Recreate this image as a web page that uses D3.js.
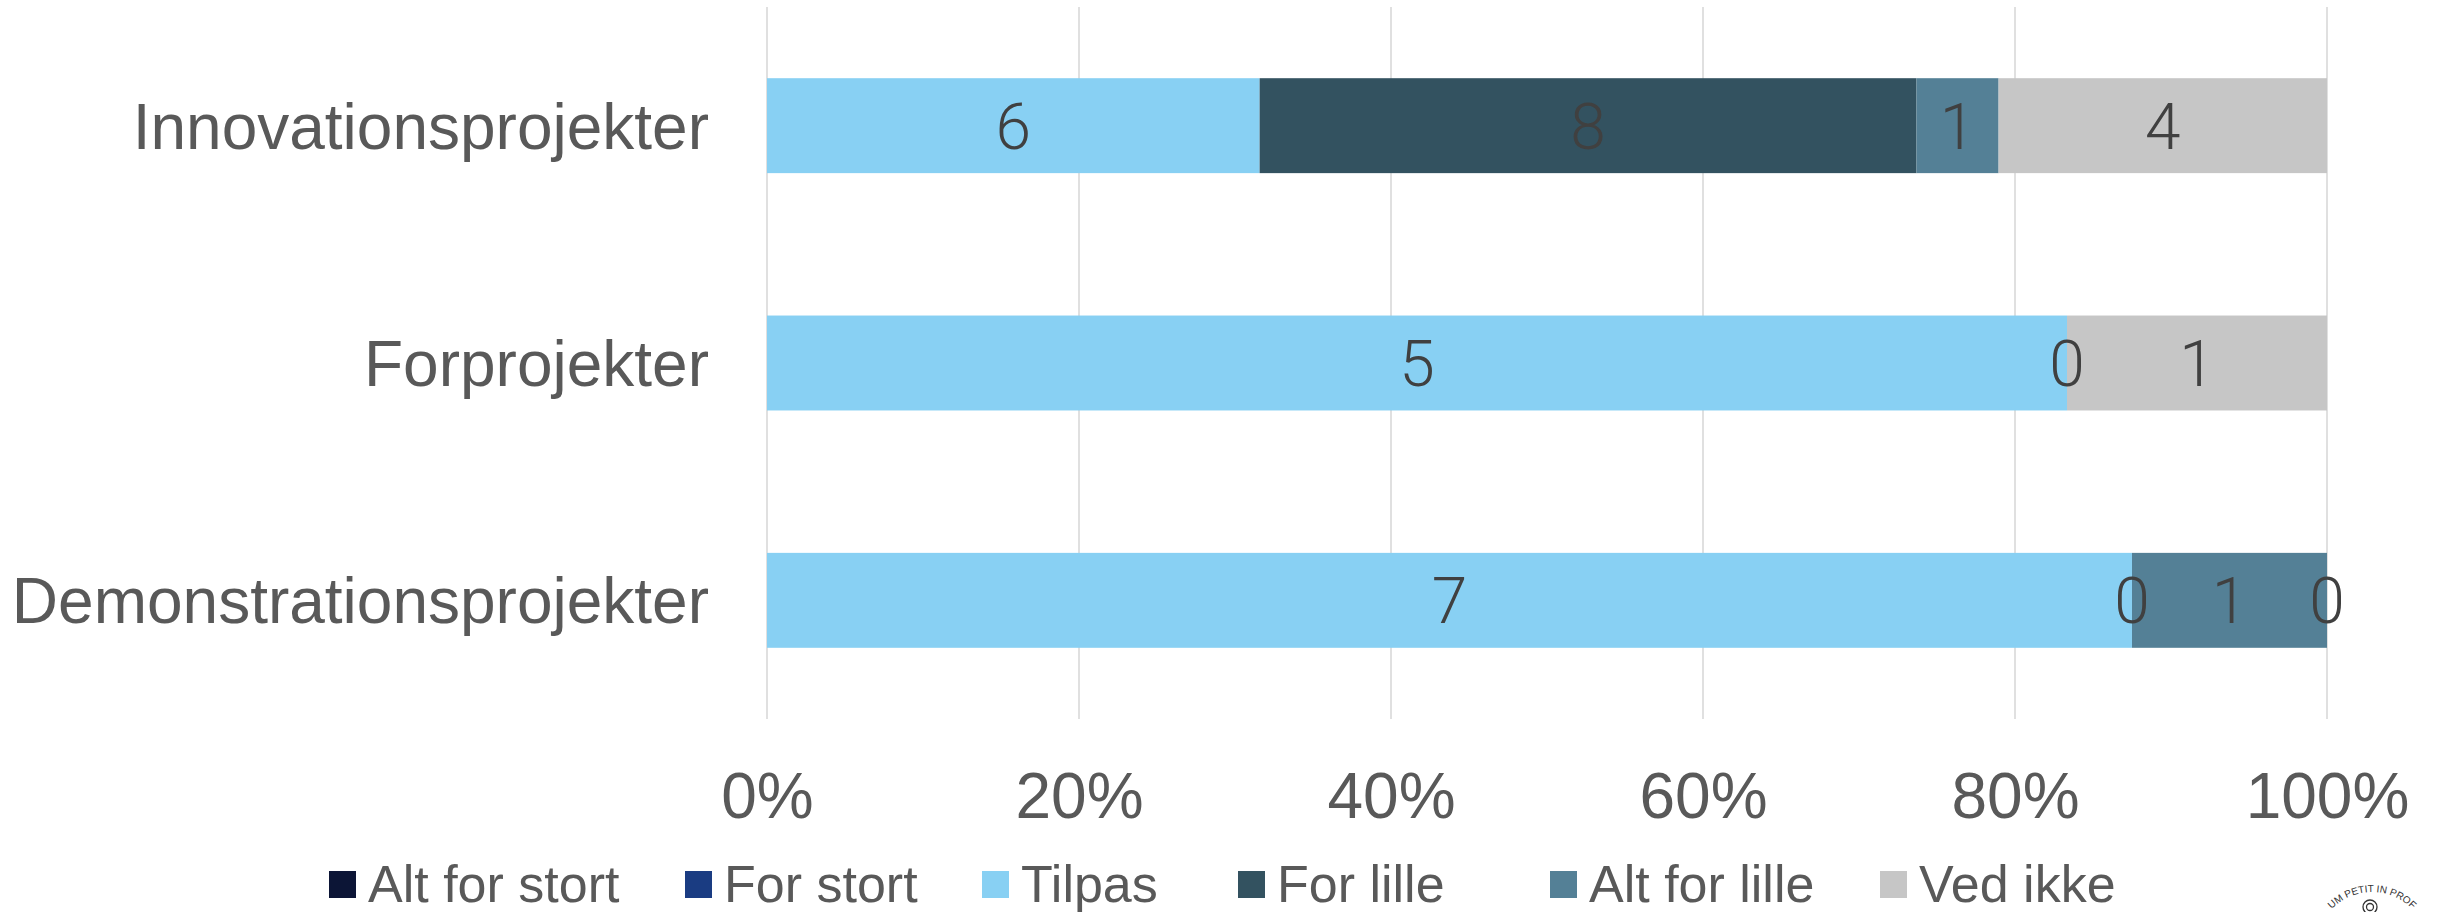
<!DOCTYPE html>
<html>
<head>
<meta charset="utf-8">
<script src="https://cdn.jsdelivr.net/npm/d3@7"></script>
<style>
  html, body { margin: 0; padding: 0; background: #ffffff; }
  svg { display: block; }
</style>
</head>
<body>
<svg id="chart" width="2438" height="912"></svg>
<script>
// ---------------- DATA ----------------
const categories = ["Innovationsprojekter", "Forprojekter", "Demonstrationsprojekter"];
const seriesNames = ["Alt for stort", "For stort", "Tilpas", "For lille", "Alt for lille", "Ved ikke"];
const altForStort = [null, null, null];
const forStort    = [null, null, null];
const tilpas      = [6, 5, 7];
const forLille    = [8, 0, 0];
const altForLille = [1, null, 1];
const vedIkke     = [4, 1, 0];
const tickValues  = [0, 0.2, 0.4, 0.6, 0.8, 1.0];
const tickLabels  = ["0%", "20%", "40%", "60%", "80%", "100%"];
const stampText   = "UM PETIT IN PROF";

// ---------------- STYLE / LAYOUT ----------------
const seriesColors = ["#0c1536", "#1a3c82", "#88d0f3", "#335260", "#548096", "#c6c6c6"];
const W = 2438, H = 912;
const plot = { left: 767, right: 2327, top: 7, bottom: 719 };
const legendX = [329, 685, 982, 1238, 1550, 1880];
const textFont = "'Liberation Sans', Arial, sans-serif";
const labelFont = "Roboto, 'DejaVu Sans', sans-serif";

const seriesValues = [altForStort, forStort, tilpas, forLille, altForLille, vedIkke];
const rows = categories.map((c, i) => {
  const r = { category: c };
  seriesNames.forEach((s, k) => { r[s] = seriesValues[k][i]; });
  return r;
});

const svg = d3.select("#chart");

const x = d3.scaleLinear().domain([0, 1]).range([plot.left, plot.right]);
const y = d3.scaleBand().domain(categories).range([plot.top, plot.bottom])
  .paddingInner(0.6).paddingOuter(0.3);
const color = d3.scaleOrdinal().domain(seriesNames).range(seriesColors);

// gridlines
svg.append("g").selectAll("line").data(tickValues).join("line")
  .attr("x1", d => x(d)).attr("x2", d => x(d))
  .attr("y1", plot.top).attr("y2", plot.bottom)
  .attr("stroke", "#d9d9d9").attr("stroke-width", 1.6);

// stacked bars
const stack = d3.stack().keys(seriesNames)
  .value((d, k) => d[k] == null ? 0 : d[k])
  .offset(d3.stackOffsetExpand);
const layers = stack(rows);

const gBars = svg.append("g");
layers.forEach(layer => {
  gBars.append("g").attr("fill", color(layer.key))
    .selectAll("rect").data(layer).join("rect")
    .attr("x", d => x(d[0]))
    .attr("y", d => y(d.data.category))
    .attr("width", d => Math.max(0, x(d[1]) - x(d[0])))
    .attr("height", y.bandwidth());
});

// data labels
const gLabels = svg.append("g");
layers.forEach(layer => {
  gLabels.append("g").selectAll("text")
    .data(layer.filter(d => d.data[layer.key] != null))
    .join("text")
    .attr("x", d => x((d[0] + d[1]) / 2))
    .attr("y", d => y(d.data.category) + y.bandwidth() / 2)
    .attr("dy", "0.36em")
    .attr("text-anchor", "middle")
    .attr("font-family", labelFont)
    .attr("font-weight", 300)
    .attr("font-size", 64)
    .attr("fill", "#404040")
    .text(d => d.data[layer.key]);
});

// x axis (tick labels only)
const xAxis = d3.axisBottom(x).tickValues(tickValues)
  .tickFormat((d, i) => tickLabels[i]).tickSize(0).tickPadding(54);
const gx = svg.append("g").attr("transform", `translate(0,${plot.bottom})`).call(xAxis);
gx.select(".domain").remove();
gx.selectAll("text").attr("font-family", textFont).attr("font-size", 64).attr("fill", "#595959");

// y axis (category labels)
const yAxis = d3.axisLeft(y).tickSize(0).tickPadding(58);
const gy = svg.append("g").attr("transform", `translate(${plot.left},0)`).call(yAxis);
gy.select(".domain").remove();
gy.selectAll("text").attr("font-family", textFont).attr("font-size", 64)
  .attr("fill", "#595959").attr("dy", "0.36em");

// legend
const gLeg = svg.append("g");
const items = gLeg.selectAll("g").data(seriesNames).join("g")
  .attr("transform", (d, i) => `translate(${legendX[i]},0)`);
items.append("rect").attr("x", 0).attr("y", 871).attr("width", 27).attr("height", 27)
  .attr("fill", d => color(d));
items.append("text").attr("x", 39).attr("y", 902)
  .attr("font-family", textFont).attr("font-size", 52).attr("fill", "#595959")
  .text(d => d);

// small stamp logo in the bottom-right corner (top part visible)
const logo = svg.append("g").attr("transform", "translate(2372,948)");
logo.append("path").attr("id", "logoArc")
  .attr("d", "M -56,0 A 56,56 0 0,1 56,0")
  .attr("fill", "none");
logo.append("text").attr("font-family", textFont).attr("font-size", 10)
  .attr("fill", "#333").attr("text-anchor", "middle")
  .append("textPath").attr("href", "#logoArc").attr("startOffset", "50%")
  .text(stampText);
logo.append("circle").attr("cx", -2).attr("cy", -41).attr("r", 7)
  .attr("fill", "none").attr("stroke", "#333").attr("stroke-width", 1.3);
logo.append("circle").attr("cx", -2).attr("cy", -41).attr("r", 3.5)
  .attr("fill", "none").attr("stroke", "#333").attr("stroke-width", 1.3);
</script>
</body>
</html>
